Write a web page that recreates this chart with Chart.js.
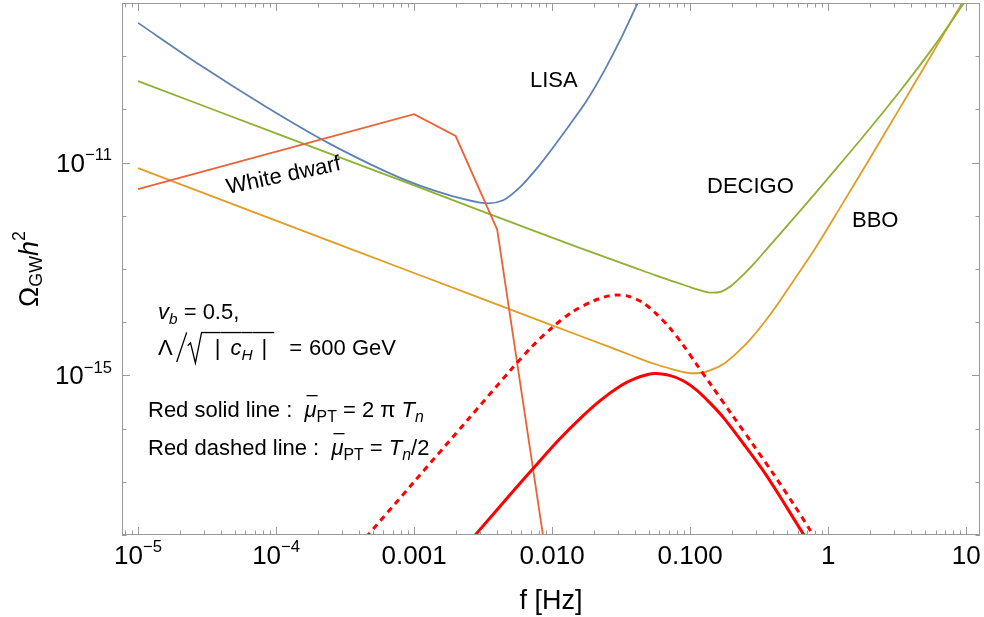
<!DOCTYPE html>
<html lang="en">
<head>
<meta charset="UTF-8">
<title>GW spectrum vs detector sensitivities</title>
<script src="https://cdn.jsdelivr.net/npm/chart.js@4.4.1/dist/chart.umd.min.js"></script>
<style>
  html, body { margin: 0; padding: 0; background: #fff; }
  .wrap { width: 984px; height: 617px; position: relative; }
</style>
</head>
<body>
<div class="wrap"><canvas id="gwChart"></canvas></div>
<script>
// values: frequency f [Hz] and Omega_GW h^2
const lisaF = [1e-5, 2.81e-5, 8.61e-5, 2.46e-4, 6.37e-4, 1.10e-3, 1.92e-3, 3.27e-3, 4.42e-3, 5.86e-3, 7.78e-3, 1.02e-2, 1.35e-2, 1.79e-2, 2.38e-2, 3.11e-2, 4.2e-2, 5.13e-2];
const lisaOmega = [4.23e-9, 6.81e-10, 1.09e-10, 2.25e-11, 6.61e-12, 3.68e-12, 2.33e-12, 1.73e-12, 1.96e-12, 3.45e-12, 7.85e-12, 1.95e-11, 5.27e-11, 1.49e-10, 5.25e-10, 2.0e-9, 1.05e-8, 3.31e-8];

const decigoF = [1e-5, 1e-4, 1e-3, 1e-2, 2.51e-2, 3.98e-2, 5.62e-2, 7.94e-2, 0.1, 0.126, 0.141, 0.166, 0.2, 0.24, 0.295, 0.363, 0.631, 1.096, 1.905, 3.31, 5.75, 9.55, 11.2];
const decigoOmega = [3.39e-10, 3.55e-11, 3.72e-12, 3.89e-13, 1.62e-13, 1.05e-13, 7.59e-14, 5.62e-14, 4.57e-14, 3.8e-14, 3.59e-14, 3.72e-14, 4.9e-14, 7.59e-14, 1.32e-13, 2.45e-13, 1.26e-12, 6.76e-12, 3.72e-11, 2.19e-10, 1.45e-9, 9.55e-9, 1.74e-8];

const bboF = [1e-5, 1e-4, 1e-3, 1e-2, 2.51e-2, 3.98e-2, 5.62e-2, 7.59e-2, 9.55e-2, 0.117, 0.141, 0.178, 0.224, 0.282, 0.355, 0.447, 0.562, 0.794, 1.259, 1.995, 3.162, 5.012, 7.943, 11.22];
const bboOmega = [7.85e-12, 8.13e-13, 8.41e-14, 8.71e-15, 3.55e-15, 2.24e-15, 1.62e-15, 1.29e-15, 1.12e-15, 1.11e-15, 1.26e-15, 1.7e-15, 2.82e-15, 5.25e-15, 1.1e-14, 2.51e-14, 6.03e-14, 2.29e-13, 1.62e-12, 1.17e-11, 8.71e-11, 6.46e-10, 4.9e-9, 2.24e-8];

const wdF = [1e-5, 1e-3, 2e-3, 4e-3, 8.8e-3];
const wdOmega = [3.16e-12, 8.13e-11, 3.16e-11, 5.5e-13, 6.5e-19];

const solidF = [2.51e-3, 5.01e-3, 7.94e-3, 1.12e-2, 1.58e-2, 2.24e-2, 3.16e-2, 3.98e-2, 5.01e-2, 5.62e-2, 7.08e-2, 8.91e-2, 0.112, 0.141, 0.178, 0.251, 0.355, 0.501, 0.631, 0.794];
const solidOmega = [7.41e-19, 5.89e-18, 2.29e-17, 6.17e-17, 1.51e-16, 3.39e-16, 6.46e-16, 8.71e-16, 1.05e-15, 1.08e-15, 1.0e-15, 7.94e-16, 5.25e-16, 2.95e-16, 1.51e-16, 4.68e-17, 1.35e-17, 3.31e-18, 1.26e-18, 5.01e-19];

const dashedF = [3.98e-4, 1e-3, 2.51e-3, 5.01e-3, 7.08e-3, 1e-2, 1.41e-2, 2.0e-2, 2.51e-2, 2.95e-2, 3.55e-2, 4.47e-2, 5.62e-2, 7.08e-2, 8.91e-2, 0.112, 0.141, 0.2, 0.282, 0.398, 0.562, 0.741, 0.891];
const dashedOmega = [6.31e-19, 1e-17, 1.58e-16, 1.26e-15, 3.39e-15, 7.94e-15, 1.58e-14, 2.51e-14, 3.09e-14, 3.24e-14, 3.09e-14, 2.4e-14, 1.48e-14, 7.94e-15, 3.72e-15, 1.58e-15, 6.76e-16, 1.86e-16, 5.25e-17, 1.45e-17, 3.8e-18, 1.23e-18, 5.62e-19];

// ticks
const xMajorTicks = [1e-5, 1e-4, 1e-3, 1e-2, 0.1, 1, 10];
const xTickLabels = ['10^-5', '10^-4', '0.001', '0.010', '0.100', '1', '10'];
const yDecadeTicks = [1e-18, 1e-17, 1e-16, 1e-15, 1e-14, 1e-13, 1e-12, 1e-11, 1e-10, 1e-9, 1e-8];
const yLabelTicks = [1e-11, 1e-15];
const yTickLabels = ['10^-11', '10^-15'];

function pts(xs, ys) {
    return xs.map((x, i) => ({ x: x, y: ys[i] }));
}

const FONT = '"Liberation Sans", Arial, Helvetica, sans-serif';
const FRAME = '#9a9a9a';

function setFont(ctx, size, italic) {
    ctx.font = (italic ? 'italic ' : '') + size + 'px ' + FONT;
}

// runs of text with sub/superscripts, overbars, radical sign
// pre: space before, gap: space after, w: fixed width for drawn symbols
function measureRuns(ctx, parts, size) {
    let w = 0;
    parts.forEach(p => {
        if (p.kind) p._w = p.w;
        else {
            setFont(ctx, size * (p.s || 1), p.i);
            p._w = ctx.measureText(p.t).width;
        }
        w += (p.pre || 0) + p._w + (p.gap || 0);
    });
    return w;
}

function drawRuns(ctx, parts, size, x, y, align) {
    const total = measureRuns(ctx, parts, size);
    let cx = align === 'center' ? x - total / 2 : align === 'right' ? x - total : x;
    ctx.textAlign = 'left';
    ctx.textBaseline = 'alphabetic';
    ctx.fillStyle = '#000';
    ctx.strokeStyle = '#000';
    parts.forEach(p => {
        const x0 = cx;
        cx += p.pre || 0;
        if (p.kind === 'radical') {
            ctx.beginPath();
            ctx.moveTo(cx, y - 0.42 * size);
            ctx.lineTo(cx + 0.2 * p._w, y - 0.55 * size);
            ctx.lineTo(cx + 0.55 * p._w, y + 0.36 * size);
            ctx.lineTo(cx + p._w, y - 1.05 * size);
            ctx.lineWidth = 1.3;
            ctx.stroke();
        } else if (p.kind === 'slash') {
            ctx.beginPath();
            ctx.moveTo(cx, y + 0.32 * size);
            ctx.lineTo(cx + p._w, y - 1.03 * size);
            ctx.lineWidth = 1.3;
            ctx.stroke();
        } else {
            setFont(ctx, size * (p.s || 1), p.i);
            ctx.fillText(p.t, cx, y + (p.dy || 0) * size);
        }
        cx += p._w + (p.gap || 0);
        if (p.bar) {
            const bx = p.barShift ? x0 + (p.pre || 0) + p.barShift : x0;
            const bw = p.barShift ? p._w - 1 : cx - x0;
            ctx.fillRect(bx, y - p.bar * size, bw, 1.3);
        }
    });
}

function tickParts(label) {
    if (label.indexOf('^') < 0) return [{ t: label }];
    const bits = label.split('^');
    return [{ t: bits[0] }, { t: bits[1].replace('-', '\u2212'), s: 0.64, dy: -0.45 }];
}

const framePlugin = {
    id: 'mmaFrame',
    afterDraw(chart) {
        const ctx = chart.ctx;
        const a = chart.chartArea;
        const xs = chart.scales.x;
        const ys = chart.scales.y;
        ctx.save();

        // frame
        ctx.strokeStyle = FRAME;
        ctx.lineWidth = 1;
        ctx.strokeRect(a.left + 0.5, a.top + 0.5, a.right - a.left - 1, a.bottom - a.top - 1);

        // x ticks (inside, bottom and top)
        ctx.beginPath();
        for (let d = -6; d <= 1; d++) {
            for (let m = 1; m <= 9; m++) {
                const v = m * Math.pow(10, d);
                if (v < xs.min || v > xs.max) continue;
                const px = Math.round(xs.getPixelForValue(v)) + 0.5;
                const len = m === 1 ? 8 : 4.5;
                ctx.moveTo(px, a.bottom); ctx.lineTo(px, a.bottom - len);
                ctx.moveTo(px, a.top); ctx.lineTo(px, a.top + len);
            }
        }
        // y ticks (inside, left and right)
        yDecadeTicks.forEach(v => {
            const py = Math.round(ys.getPixelForValue(v)) + 0.5;
            const len = yLabelTicks.indexOf(v) >= 0 ? 8 : 4.5;
            ctx.moveTo(a.left, py); ctx.lineTo(a.left + len, py);
            ctx.moveTo(a.right, py); ctx.lineTo(a.right - len, py);
        });
        ctx.stroke();

        // tick labels
        xMajorTicks.forEach((v, i) => {
            drawRuns(ctx, tickParts(xTickLabels[i]), 26, xs.getPixelForValue(v), a.bottom + 29, 'center');
        });
        yLabelTicks.forEach((v, i) => {
            drawRuns(ctx, tickParts(yTickLabels[i]), 26, a.left - 10, ys.getPixelForValue(v) + 9, 'right');
        });

        // axis titles
        drawRuns(ctx, [{ t: 'f [Hz]' }], 27, (a.left + a.right) / 2, 609, 'center');
        ctx.save();
        ctx.translate(38, 269);
        ctx.rotate(-Math.PI / 2);
        drawRuns(ctx, [{ t: '\u03A9' }, { t: 'GW', s: 0.66, dy: 0.16 }, { t: 'h', i: true }, { t: '2', s: 0.66, dy: -0.48 }], 27, 0, 0, 'center');
        ctx.restore();

        // curve labels
        drawRuns(ctx, [{ t: 'LISA' }], 22, 530, 87, 'left');
        drawRuns(ctx, [{ t: 'DECIGO' }], 22, 707, 193, 'left');
        drawRuns(ctx, [{ t: 'BBO' }], 22, 852, 227, 'left');
        ctx.save();
        ctx.translate(228, 194);
        ctx.rotate(-12 * Math.PI / 180);
        drawRuns(ctx, [{ t: 'White dwarf' }], 22, 0, 0, 'left');
        ctx.restore();

        // parameter notes
        drawRuns(ctx, [{ t: 'v', i: true }, { t: 'b', i: true, s: 0.7, dy: 0.22 }, { t: ' = 0.5,' }], 22, 158, 319, 'left');
        drawRuns(ctx, [
            { t: '\u039B' },
            { kind: 'slash', w: 10, pre: 4 },
            { kind: 'radical', w: 14, pre: 1 },
            { t: '|', pre: 13, bar: 1.05 },
            { t: 'c', i: true, pre: 10, bar: 1.05 },
            { t: 'H', i: true, s: 0.7, dy: 0.22, bar: 1.05 },
            { t: '|', pre: 9, gap: 7, bar: 1.05 },
            { t: '=', pre: 15 },
            { t: '600 GeV', pre: 7 }
        ], 22, 158, 355, 'left');
        drawRuns(ctx, [
            { t: 'Red solid line :  ' }, { t: '\u03BC', i: true, bar: 1.0, barShift: 2 },
            { t: 'PT', s: 0.72, dy: 0.22 }, { t: ' = 2 \u03C0 ' }, { t: 'T', i: true }, { t: 'n', i: true, s: 0.72, dy: 0.22 }
        ], 22, 148, 417, 'left');
        drawRuns(ctx, [
            { t: 'Red dashed line :  ' }, { t: '\u03BC', i: true, bar: 1.0, barShift: 2 },
            { t: 'PT', s: 0.72, dy: 0.22 }, { t: ' = ' }, { t: 'T', i: true }, { t: 'n', i: true, s: 0.72, dy: 0.22 }, { t: '/2' }
        ], 22, 148, 455, 'left');

        ctx.restore();
    }
};

const ctx = document.getElementById('gwChart').getContext('2d');
new Chart(ctx, {
    type: 'line',
    data: {
        datasets: [
            { label: 'Red solid', data: pts(solidF, solidOmega), borderColor: '#ff0000', borderWidth: 3, tension: 0.3 },
            { label: 'Red dashed', data: pts(dashedF, dashedOmega), borderColor: '#ff0000', borderWidth: 3, borderDash: [6, 5], tension: 0.3 },
            { label: 'White dwarf', data: pts(wdF, wdOmega), borderColor: '#eb6235', borderWidth: 1.8, tension: 0 },
            { label: 'LISA', data: pts(lisaF, lisaOmega), borderColor: '#5e81b5', borderWidth: 1.8, tension: 0.3 },
            { label: 'DECIGO', data: pts(decigoF, decigoOmega), borderColor: '#8fb131', borderWidth: 1.8, tension: 0.3 },
            { label: 'BBO', data: pts(bboF, bboOmega), borderColor: '#e19c24', borderWidth: 1.8, tension: 0.3 }
        ]
    },
    options: {
        responsive: true,
        maintainAspectRatio: false,
        animation: false,
        events: [],
        parsing: false,
        clip: 0,
        elements: { point: { radius: 0 }, line: { fill: false } },
        layout: { padding: { left: 122, right: 4, top: 3, bottom: 82 } },
        scales: {
            x: { type: 'logarithmic', min: 7.65e-6, max: 12.6, display: false },
            y: { type: 'logarithmic', min: 1e-18, max: 1e-8, display: false }
        },
        plugins: {
            legend: { display: false },
            tooltip: { enabled: false }
        }
    },
    plugins: [framePlugin]
});
</script>
</body>
</html>
